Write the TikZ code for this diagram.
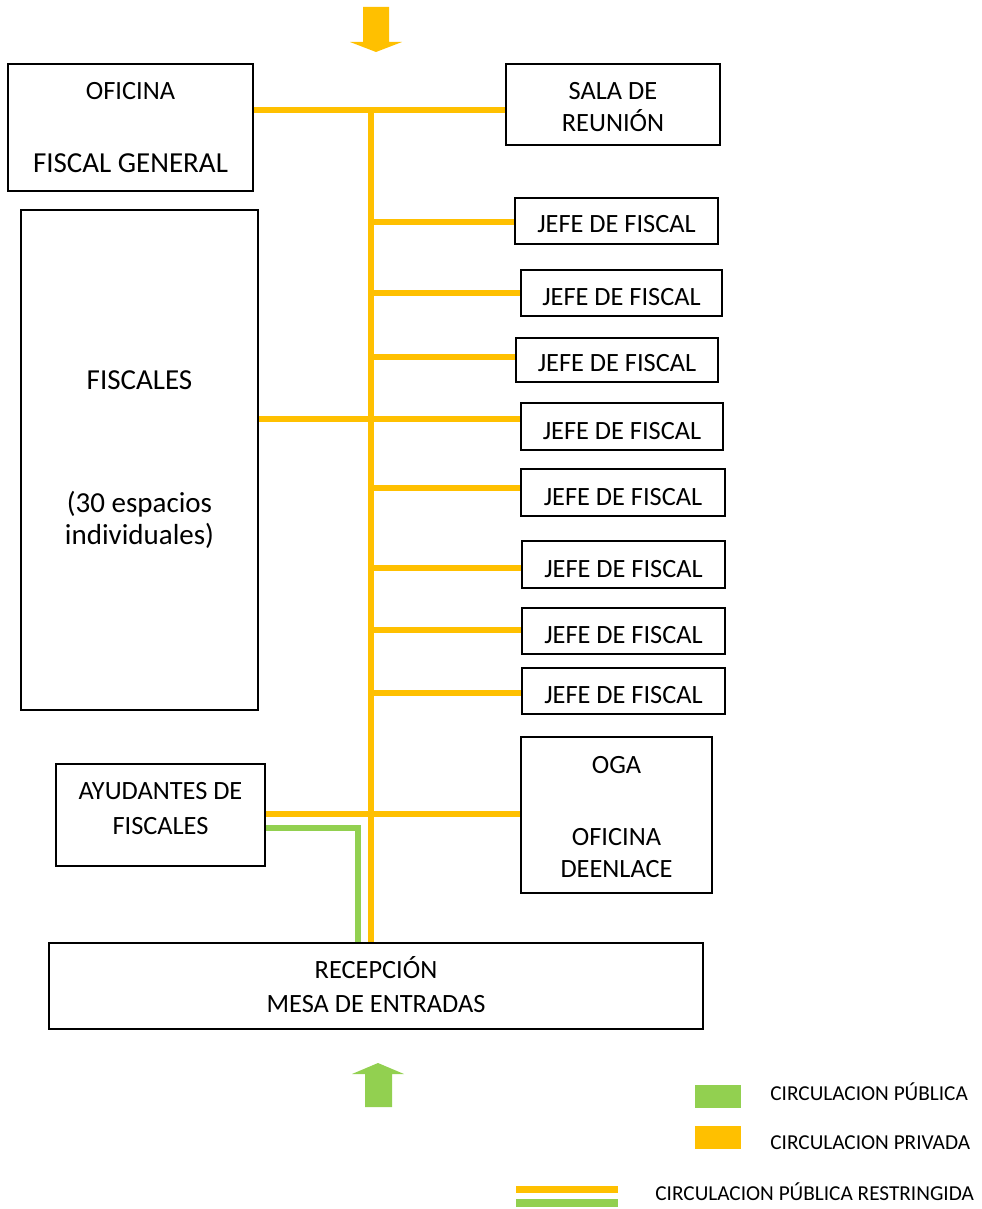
\documentclass[tikz,border=0pt]{standalone}
\usepackage{fontspec}
\setmainfont{Carlito}
\usepackage{tikz}
\definecolor{privado}{HTML}{FFC000}
\definecolor{publico}{HTML}{92D050}
\tikzset{
  box/.style={draw=black, line width=0.9pt, inner sep=0pt},
  txt/.style={anchor=base, inner sep=0pt, font=\fontsize{15}{18}\selectfont},
  txtg/.style={txt, font=\fontsize{16.5}{20}\selectfont},
  leyenda/.style={anchor=base west, inner sep=0pt, font=\fontsize{12.1}{14}\selectfont},
  priv/.style={draw=privado, line width=3.4pt},
  publ/.style={draw=publico, line width=3.4pt},
}
% box from its corners, in pixels
\newcommand{\caja}[5]{%
  \node[box, minimum width={(#4-#2)*0.02cm}, minimum height={(#5-#3)*0.02cm}]
    (#1) at ({(#2+#4)/2},{(#3+#5)/2}) {};}
\begin{document}
\begin{tikzpicture}[x=0.02cm,y=-0.02cm]
\useasboundingbox (0,0) rectangle (982,1209);

% entradas
\fill[privado] (363,7) -- (389,7) -- (389,42) -- (402,42) -- (376,52) -- (350,42) -- (363,42) -- cycle;
\fill[publico] (365,1107) -- (392,1107) -- (392,1074) -- (404,1074) -- (378,1063) -- (352,1074) -- (365,1074) -- cycle;

% locales
\caja{ofi}{8}{64}{253}{191}
\node[txt] (ofi-a) at (ofi |- 0,100) {OFICINA};
\node[txtg] (ofi-b) at (ofi |- 0,173) {FISCAL GENERAL};
\caja{sala}{506}{64}{720}{145}
\node[txt] (sala-a) at (sala |- 0,100) {SALA DE};
\node[txt] (sala-b) at (sala |- 0,132) {REUNIÓN};
\caja{fis}{21}{210}{258}{710}
\node[txtg] (fis-a) at (fis |- 0,389) {FISCALES};
\node[txtg] (fis-b) at (fis |- 0,512) {(30 espacios};
\node[txtg] (fis-c) at (fis |- 0,544) {individuales)};
\foreach \n/\l/\t/\r/\b in {1/515/198/718/244, 2/521/270/722/316, 3/516/338/718/382,
    4/521/403/723/450, 5/521/469/725/516, 6/522/541/725/588, 7/522/608/725/654, 8/522/668/725/714}{
  \caja{j\n}{\l}{\t}{\r}{\b}
  \node[txt] (j\n-t) at (j\n |- 0,{\b-11}) {JEFE DE FISCAL};
}
\caja{ayu}{56}{764}{265}{866}
\node[txt] (ayu-a) at (ayu |- 0,799) {AYUDANTES DE};
\node[txt] (ayu-b) at (ayu |- 0,834) {FISCALES};
\caja{oga}{521}{737}{712}{893}
\node[txt] (oga-a) at (oga |- 0,773) {OGA};
\node[txt] (oga-b) at (oga |- 0,845) {OFICINA};
\node[txt] (oga-c) at (oga |- 0,877) {DEENLACE};
\caja{rec}{49}{943}{703}{1029}
\node[txt] (rec-a) at (rec |- 0,978) {RECEPCIÓN};
\node[txt] (rec-b) at (rec |- 0,1012) {MESA DE ENTRADAS};

% circulaciones
\coordinate (top) at (371,110);
\coordinate (giro) at (358,828);
\draw[publ] (ayu.east |- giro) -- (giro) -- (giro |- rec.north);
\draw[priv] (top) -- (top |- rec.north);
\draw[priv] (ofi.east |- top) -- (sala.west |- top);
\draw[priv] (fis.east |- 0,419) -- (j4.west |- 0,419);
\draw[priv] (ayu.east |- 0,814) -- (oga.west |- 0,814);
\foreach \n/\y in {1/222, 2/293, 3/357, 5/488, 6/568, 7/630, 8/693}
  \draw[priv] (top |- 0,\y) -- (j\n.west |- 0,\y);

% leyenda
\fill[publico] (695,1085) rectangle (741,1108);
\node[leyenda] (ley-a) at (770,1100) {CIRCULACION PÚBLICA};
\fill[privado] (695,1126) rectangle (741,1149);
\node[leyenda] (ley-b) at (770,1149) {CIRCULACION PRIVADA};
\coordinate (rs) at (516,1189);
\coordinate (re) at (618,1189);
\draw[priv, line width=4pt] (rs) -- (re);
\draw[publ, line width=4pt] ([yshift=-0.28cm]rs) -- ([yshift=-0.28cm]re);
\node[leyenda] (ley-c) at (655,1200) {CIRCULACION PÚBLICA RESTRINGIDA};
\end{tikzpicture}
\end{document}
